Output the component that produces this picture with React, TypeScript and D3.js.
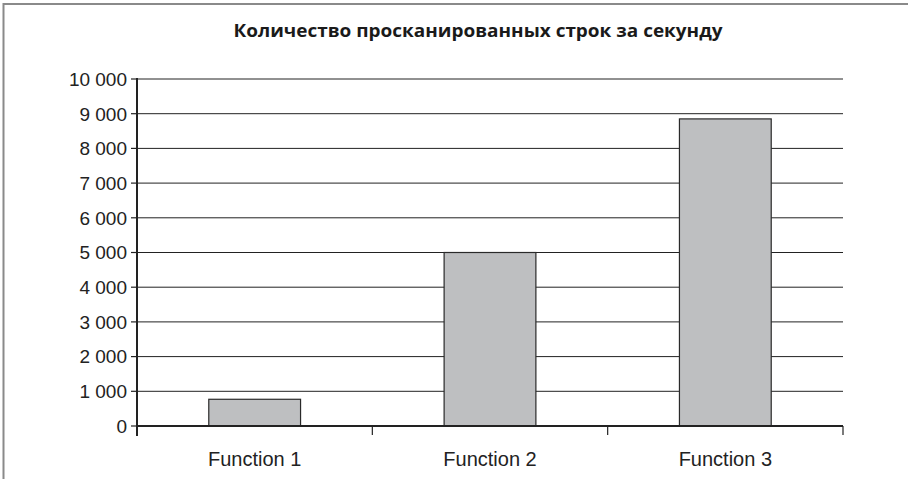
import React from 'react';
import * as d3 from 'd3';

const categories = ['Function 1', 'Function 2', 'Function 3'];
const values = [770, 5000, 8850];
const yTicks = [0, 1000, 2000, 3000, 4000, 5000, 6000, 7000, 8000, 9000, 10000];
const title = 'Количество просканированных строк за секунду';

const W = 908;
const H = 479;
const left = 137;
const right = 843;
const top = 79;
const bottom = 426;

const fmt = (v: number) => (v >= 1000 ? Math.floor(v / 1000) + ' ' + String(v % 1000).padStart(3, '0') : String(v));

export default function App() {
  const x = d3.scaleBand<string>().domain(categories).range([left, right]).paddingInner(0.61).paddingOuter(0.305);
  const y = d3.scaleLinear().domain([0, 10000]).range([bottom, top]);
  const bounds = [left, left + (right - left) / 3, left + (2 * (right - left)) / 3, right];

  return (
    <svg width={W} height={H} style={{ position: 'absolute', left: 0, top: 0 }}>
      <rect x={0} y={0} width={W} height={H} fill="#fff" />
      <rect x={3.5} y={4} width={W + 10} height={H + 10} fill="none" stroke="#8a8a8a" strokeWidth={2} />
      <text
        x={478}
        y={37}
        textAnchor="middle"
        fontFamily="'Open Sans', sans-serif"
        fontWeight="bold"
        fontSize={18}
        textLength={489}
        lengthAdjust="spacingAndGlyphs"
        fill="#1a1a1a"
      >
        {title}
      </text>
      {yTicks.map((t) => (
        <g key={t}>
          {t > 0 && <line x1={left} x2={right} y1={y(t)} y2={y(t)} stroke="#222" strokeWidth={1} />}
          <line x1={left - 6} x2={left} y1={y(t)} y2={y(t)} stroke="#222" strokeWidth={1.2} />
          <text
            x={left - 10}
            y={y(t)}
            dy="0.36em"
            textAnchor="end"
            fontFamily="'Liberation Sans', Arial, sans-serif"
            fontSize={19}
            fill="#222"
          >
            {fmt(t)}
          </text>
        </g>
      ))}
      {categories.map((c, i) => (
        <rect
          key={c}
          x={x(c)}
          y={y(values[i])}
          width={x.bandwidth()}
          height={bottom - y(values[i])}
          fill="#bebfc1"
          stroke="#2a2a2a"
          strokeWidth={1.2}
        />
      ))}
      <line x1={left} x2={right} y1={bottom} y2={bottom} stroke="#222" strokeWidth={2} />
      <line x1={left} x2={left} y1={top - 1} y2={bottom + 10} stroke="#222" strokeWidth={2} />
      {bounds.slice(1).map((b, i) => (
        <line key={i} x1={b} x2={b} y1={bottom} y2={bottom + 9} stroke="#222" strokeWidth={1.2} />
      ))}
      {categories.map((c) => (
        <text
          key={c}
          x={(x(c) as number) + x.bandwidth() / 2}
          y={466}
          textAnchor="middle"
          fontFamily="'Liberation Sans', Arial, sans-serif"
          fontSize={20}
          fill="#222"
        >
          {c}
        </text>
      ))}
    </svg>
  );
}
